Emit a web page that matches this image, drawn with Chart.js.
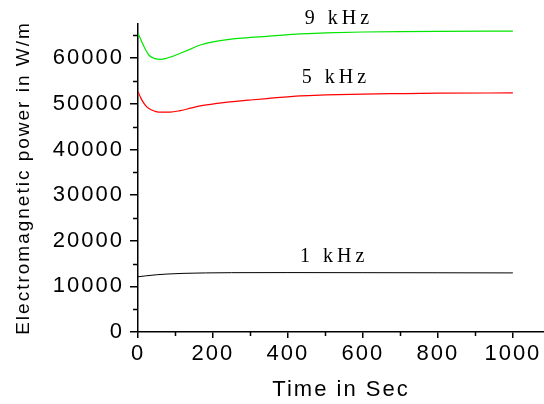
<!DOCTYPE html>
<html>
<head>
<meta charset="utf-8">
<script src="https://cdn.jsdelivr.net/npm/chart.js@4"></script>
<style>
  html, body { margin: 0; padding: 0; background: #fff; }
  #wrap { width: 544px; height: 404px; }
</style>
</head>
<body>
<div id="wrap"><canvas id="grafico" width="544" height="404"></canvas></div>
<script>
// values (time in s, power in W/m)
const t9 = [0, 10, 20, 30, 45, 60, 75, 90, 113, 140, 166, 200, 254, 300, 344, 433, 500, 600, 700, 800, 1000];
const p9 = [65500, 63600, 61900, 60600, 59900, 59750, 59950, 60350, 61100, 62000, 62900, 63600, 64250, 64550, 64800, 65350, 65550, 65750, 65850, 65900, 65950];

const t5 = [0, 8, 16, 24, 35, 48, 60, 86, 113, 140, 166, 210, 254, 300, 344, 433, 500, 600, 700, 800, 1000];
const p5 = [52700, 51200, 50100, 49270, 48700, 48300, 48180, 48180, 48530, 49050, 49560, 50100, 50500, 50850, 51160, 51750, 51950, 52150, 52250, 52330, 52400];

const t1 = [0, 20, 50, 77, 120, 180, 250, 400, 600, 800, 1000];
const p1 = [12100, 12300, 12550, 12700, 12850, 12950, 13000, 13020, 13000, 12980, 12950];

const seriesNames = ["9 kHz", "5 kHz", "1 kHz"];
const seriesColors = ["#00e600", "#ff0000", "#000000"];
// where the curve labels sit, in data units
const labelX = [445, 437, 432];
const labelY = [67500, 54630, 15400];

// tick values; labels only on the major ones
const xTicks = [0, 100, 200, 300, 400, 500, 600, 700, 800, 900, 1000];
const xLabeled = [0, 200, 400, 600, 800, 1000];
const yTicks = [0, 5000, 10000, 15000, 20000, 25000, 30000, 35000, 40000, 45000, 50000, 55000, 60000, 65000];
const yLabeled = [0, 10000, 20000, 30000, 40000, 50000, 60000];

function pontos(xs, ys) {
  return xs.map((x, i) => ({ x: x, y: ys[i] }));
}

const rotulos = {
  id: "rotulos",
  beforeDraw(chart) {
    chart.ctx.letterSpacing = "2px";
  },
  afterDraw(chart) {
    const ctx = chart.ctx;
    const xs = chart.scales.x;
    const ys = chart.scales.y;
    ctx.save();
    // minor ticks, shorter than the major ones
    ctx.strokeStyle = "#000";
    ctx.lineWidth = 1.5;
    ctx.beginPath();
    yTicks.forEach((v) => {
      if (yLabeled.includes(v)) return;
      let py = Math.round(ys.getPixelForValue(v)) + 0.5;
      ctx.moveTo(xs.left - 5, py);
      ctx.lineTo(xs.left, py);
    });
    xTicks.forEach((v) => {
      if (xLabeled.includes(v)) return;
      let px = Math.round(xs.getPixelForValue(v)) + 0.5;
      ctx.moveTo(px, ys.bottom);
      ctx.lineTo(px, ys.bottom + 4);
    });
    ctx.stroke();

    ctx.font = '20px "Liberation Serif"';
    ctx.letterSpacing = "4px";
    ctx.fillStyle = "#000";
    ctx.textAlign = "left";
    ctx.textBaseline = "alphabetic";
    for (let i = 0; i < seriesNames.length; i++) {
      ctx.fillText(seriesNames[i], xs.getPixelForValue(labelX[i]), ys.getPixelForValue(labelY[i]));
    }
    ctx.restore();
  },
};

const datasets = [
  [t9, p9],
  [t5, p5],
  [t1, p1],
].map((d, i) => ({
  label: seriesNames[i],
  data: pontos(d[0], d[1]),
  borderColor: seriesColors[i],
  borderWidth: i == 2 ? 1 : 1.2,
  pointRadius: 0,
  cubicInterpolationMode: "monotone",
  fill: false,
}));

new Chart(document.getElementById("grafico"), {
  type: "line",
  data: { datasets: datasets },
  plugins: [rotulos],
  options: {
    responsive: false,
    animation: false,
    events: [],
    layout: { padding: { top: 24, right: 0, bottom: 0, left: 0 } },
    plugins: {
      legend: { display: false },
      tooltip: { enabled: false },
    },
    scales: {
      x: {
        type: "linear",
        min: 0,
        max: 1083,
        border: { color: "#000", width: 1.5 },
        grid: {
          drawOnChartArea: false,
          tickLength: 6,
          lineWidth: 1.5,
          color: (c) => (c.tick && xLabeled.includes(c.tick.value) ? "#000" : "rgba(0,0,0,0)"),
        },
        ticks: {
          autoSkip: false,
          maxRotation: 0,
          padding: 3,
          color: "#000",
          font: { family: '"Liberation Sans"', size: 22 },
          callback: (v) => (xLabeled.includes(v) ? String(v) : ""),
        },
        afterBuildTicks: (s) => {
          s.ticks = xTicks.map((v) => ({ value: v }));
        },
        title: {
          display: true,
          text: "Time in Sec",
          color: "#000",
          font: { family: '"Liberation Sans"', size: 22 },
          padding: { top: 1, bottom: 1 },
        },
        afterFit: (s) => {
          s.height = 72;
        },
      },
      y: {
        min: 0,
        max: 67500,
        border: { color: "#000", width: 1.5 },
        grid: {
          drawOnChartArea: false,
          tickLength: 8,
          lineWidth: 1.5,
          color: (c) => (c.tick && yLabeled.includes(c.tick.value) ? "#000" : "rgba(0,0,0,0)"),
        },
        ticks: {
          autoSkip: false,
          padding: 6,
          color: "#000",
          font: { family: '"Liberation Sans"', size: 22 },
          callback: (v) => (yLabeled.includes(v) ? String(v) : ""),
        },
        afterBuildTicks: (s) => {
          s.ticks = yTicks.map((v) => ({ value: v }));
        },
        title: {
          display: true,
          text: "Electromagnetic power in W/m",
          color: "#000",
          font: { family: '"Liberation Sans"', size: 19 },
          padding: { top: 12, bottom: 12 },
        },
        afterFit: (s) => {
          s.width = 138;
        },
      },
    },
  },
});
</script>
</body>
</html>
